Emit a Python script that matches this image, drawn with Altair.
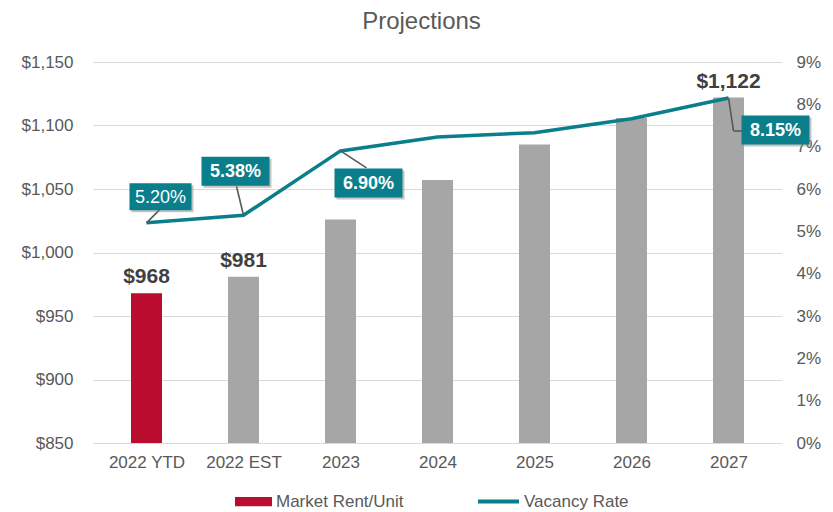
import json
import altair as alt
import pandas as pd

categories = ["2022 YTD", "2022 EST", "2023", "2024", "2025", "2026", "2027"]
rent = [968, 981, 1026, 1057, 1085, 1106, 1122]
vacancy = [5.20, 5.38, 6.90, 7.23, 7.33, 7.66, 8.15]
rent_label_idx = [0, 1, 6]
vac_label_idx = [0, 1, 2, 6]

RED = "#BA0C2F"
GRAY = "#A6A6A6"
TEAL = "#0A7E8A"
TXT = "#595959"
FONT = "Liberation Sans"

df = pd.DataFrame({
    "idx": list(range(len(categories))),
    "cat": categories,
    "rent": rent,
    "vac": vacancy,
    "series": ["Market Rent/Unit"] + ["Projected"] * (len(categories) - 1),
    "line_series": ["Vacancy Rate"] * len(categories),
})
df["rent_text"] = df["rent"].map(lambda v: f"${v:,}")
df["vac_text"] = df["vac"].map(lambda v: f"{v:.2f}%")

# callout styling (pixel offsets from the data point)
callout_style = {
    0: dict(box=(14, -26), w=62, h=27, bold=False, leaders=[(0, 0, 13, -13)]),
    1: dict(box=(-8, -44), w=68, h=29, bold=True, leaders=[(0, 0, -7, -29)]),
    2: dict(box=(28, 32), w=68, h=29, bold=True, leaders=[(0, 0, 26, 17)]),
    6: dict(box=(47, 32), w=68, h=29, bold=True, leaders=[(0, 0, 5, 33), (5, 33, 16, 33)]),
}

x_enc = alt.X(
    "idx:Q",
    scale=alt.Scale(domain=[-0.5, len(categories) - 0.5], nice=False, zero=False),
    axis=alt.Axis(
        values=list(range(len(categories))),
        labelExpr=f"{json.dumps(categories)}[datum.value]",
        grid=False, ticks=False, domain=False,
        labelFont=FONT, labelFontSize=17, labelColor=TXT, labelPadding=11,
    ),
    title=None,
)

y_left = alt.Y(
    "rent:Q",
    scale=alt.Scale(domain=[850, 1150], nice=False, zero=False),
    axis=alt.Axis(
        orient="left", values=list(range(850, 1151, 50)), format="$,.0f",
        grid=True, gridColor="#D9D9D9", gridWidth=1, ticks=False, domain=False,
        labelFont=FONT, labelFontSize=17, labelColor=TXT, labelPadding=20,
    ),
    title=None,
)

y_right = alt.Y(
    "vac:Q",
    scale=alt.Scale(domain=[0, 9], nice=False, zero=True),
    axis=alt.Axis(
        orient="right", values=list(range(0, 10)), labelExpr="datum.value + '%'",
        grid=False, ticks=False, domain=False,
        labelFont=FONT, labelFontSize=17, labelColor=TXT, labelPadding=14,
    ),
    title=None,
)

base = alt.Chart(df)

bars = base.mark_bar(width=31).encode(
    x=x_enc,
    y=y_left,
    y2=alt.datum(850),
    fill=alt.Fill(
        "series:N",
        scale=alt.Scale(domain=["Market Rent/Unit", "Projected"], range=[RED, GRAY]),
        legend=alt.Legend(
            values=["Market Rent/Unit"], title=None, orient="none",
            legendX=142, legendY=421, padding=0,
            symbolType="M-1,-0.25L1,-0.25L1,0.25L-1,0.25Z", symbolSize=1369,
            symbolStrokeWidth=0, labelFont=FONT, labelFontSize=17, labelColor=TXT,
            labelOffset=4,
        ),
    ),
)

bar_labels = base.transform_filter(
    alt.FieldOneOfPredicate(field="idx", oneOf=rent_label_idx)
).mark_text(
    font=FONT, fontSize=21, fontWeight="bold", color="#404040", baseline="bottom", dy=-6
).encode(x=x_enc, y=y_left, text="rent_text:N")

left_group = alt.layer(bars, bar_labels)

line = base.mark_line(strokeWidth=3.5).encode(
    x=x_enc,
    y=y_right,
    stroke=alt.Stroke(
        "line_series:N",
        scale=alt.Scale(domain=["Vacancy Rate"], range=[TEAL]),
        legend=alt.Legend(
            title=None, orient="none", legendX=383, legendY=417, padding=0,
            symbolType="stroke", symbolSize=1681, symbolStrokeWidth=4,
            labelFont=FONT, labelFontSize=17, labelColor=TXT, labelOffset=3,
        ),
    ),
)

right_layers = [line]
for i, st in callout_style.items():
    sub = base.transform_filter(alt.datum.idx == i)
    for (x0, y0, x1, y1) in st["leaders"]:
        right_layers.append(
            sub.mark_rule(
                color="#595959", strokeWidth=1.6,
                xOffset=x0, yOffset=y0, x2Offset=x1, y2Offset=y1,
            ).encode(x=x_enc, y=y_right, x2="idx:Q", y2="vac:Q")
        )
    ratio = st["h"] / st["w"]
    path = f"M-1,{-ratio:.4f}L1,{-ratio:.4f}L1,{ratio:.4f}L-1,{ratio:.4f}Z"
    size = st["w"] ** 2
    bx, by = st["box"]
    right_layers.append(
        sub.mark_point(
            shape=path, size=size, filled=True, color="#7F7F7F", opacity=0.45,
            strokeWidth=0, xOffset=bx + 2, yOffset=by + 2,
        ).encode(x=x_enc, y=y_right)
    )
    right_layers.append(
        sub.mark_point(
            shape=path, size=size, filled=True, color=TEAL, opacity=1,
            strokeWidth=0, xOffset=bx, yOffset=by,
        ).encode(x=x_enc, y=y_right)
    )
    right_layers.append(
        sub.mark_text(
            font=FONT, fontSize=18, fontWeight="bold" if st["bold"] else "normal",
            color="white", dx=bx, dy=by + 1, align="center", baseline="middle",
        ).encode(x=x_enc, y=y_right, text="vac_text:N")
    )

right_group = alt.layer(*right_layers)

chart = alt.layer(left_group, right_group).resolve_scale(
    y="independent"
).properties(
    width=689,
    height=381,
    padding={"left": 85, "top": 54, "right": 43, "bottom": 72},
    autosize=alt.AutoSizeParams(type="none"),
    title=alt.TitleParams(
        "Projections", font=FONT, fontSize=24, fontWeight="normal", color=TXT,
        anchor="middle", dx=-16, offset=0, baseline="alphabetic",
    ),
).configure_view(stroke=None)

chart.save("out.html", embed_options={"renderer": "svg", "actions": False})
